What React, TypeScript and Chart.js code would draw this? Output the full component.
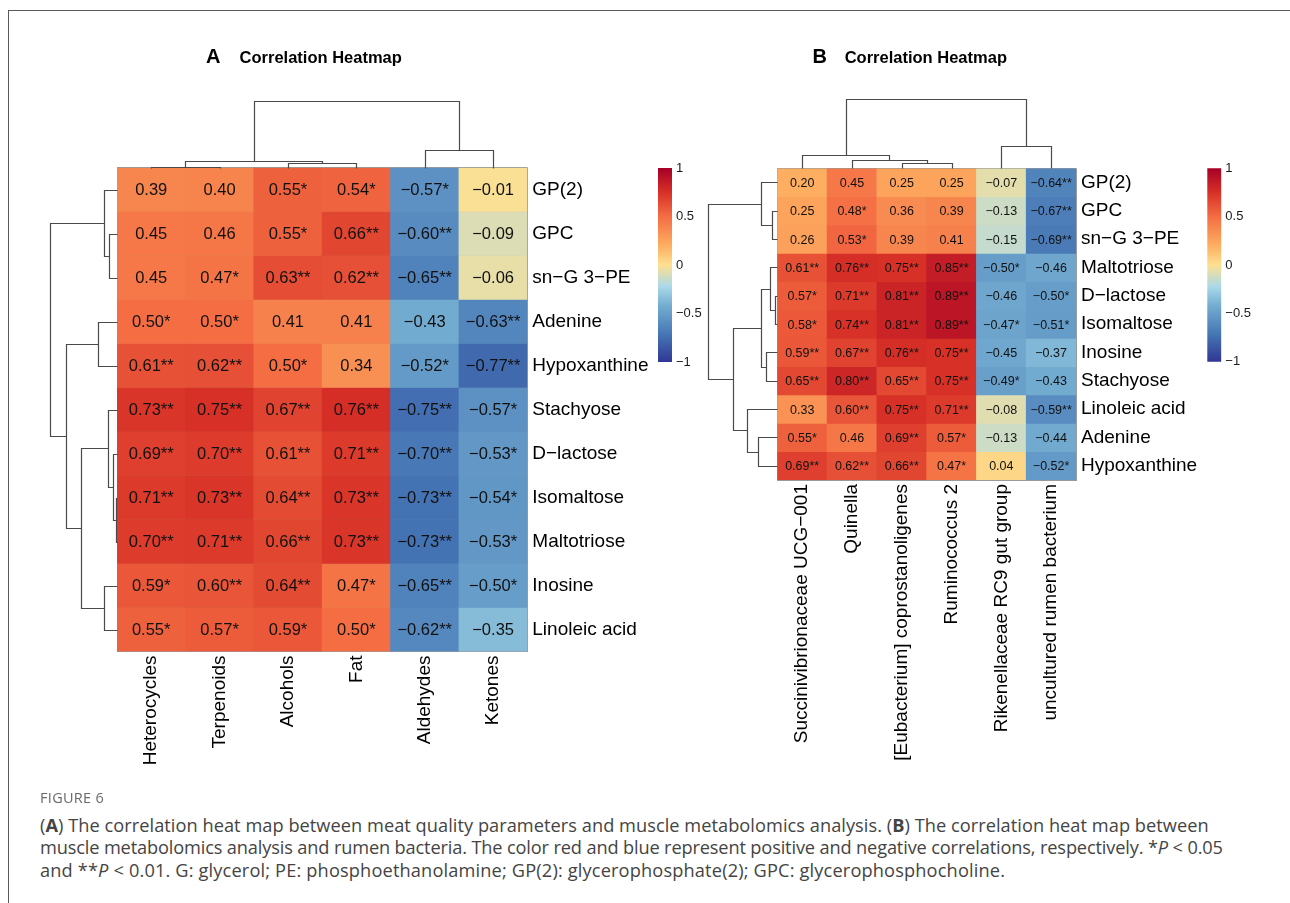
import React, { useEffect, useRef } from 'react';
import { Chart, registerables } from 'chart.js';
Chart.register(...registerables);

const FONT = '"Liberation Sans", Arial, Helvetica, sans-serif';

// ---------- Panel A data ----------
const rowsA = ['GP(2)', 'GPC', 'sn−G 3−PE', 'Adenine', 'Hypoxanthine', 'Stachyose', 'D−lactose', 'Isomaltose', 'Maltotriose', 'Inosine', 'Linoleic acid'];
const colsA = ['Heterocycles', 'Terpenoids', 'Alcohols', 'Fat', 'Aldehydes', 'Ketones'];
const valuesA = [
  [0.39, 0.40, 0.55, 0.54, -0.57, -0.01],
  [0.45, 0.46, 0.55, 0.66, -0.60, -0.09],
  [0.45, 0.47, 0.63, 0.62, -0.65, -0.06],
  [0.50, 0.50, 0.41, 0.41, -0.43, -0.63],
  [0.61, 0.62, 0.50, 0.34, -0.52, -0.77],
  [0.73, 0.75, 0.67, 0.76, -0.75, -0.57],
  [0.69, 0.70, 0.61, 0.71, -0.70, -0.53],
  [0.71, 0.73, 0.64, 0.73, -0.73, -0.54],
  [0.70, 0.71, 0.66, 0.73, -0.73, -0.53],
  [0.59, 0.60, 0.64, 0.47, -0.65, -0.50],
  [0.55, 0.57, 0.59, 0.50, -0.62, -0.35],
];
const sigA = [
  [0, 0, 1, 1, 1, 0],
  [0, 0, 1, 2, 2, 0],
  [0, 1, 2, 2, 2, 0],
  [1, 1, 0, 0, 0, 2],
  [2, 2, 1, 0, 1, 2],
  [2, 2, 2, 2, 2, 1],
  [2, 2, 2, 2, 2, 1],
  [2, 2, 2, 2, 2, 1],
  [2, 2, 2, 2, 2, 1],
  [1, 2, 2, 1, 2, 1],
  [1, 1, 1, 1, 2, 0],
];
// hclust-style merges: negative = leaf (1-based), positive = earlier merge; third = relative height
const rowMergeA = [
  [-8, -9, 0.019], [-7, 1, 0.055], [-6, 2, 0.13], [-2, -3, 0.115], [-1, 4, 0.194],
  [-10, -11, 0.194], [-4, -5, 0.288], [3, 6, 0.533], [7, 8, 0.76], [5, 9, 1.0],
];
const colMergeA = [[-1, -2, 0.012], [-3, -4, 0.071], [1, 2, 0.10], [-5, -6, 0.26], [3, 4, 1.0]];

// ---------- Panel B data ----------
const rowsB = ['GP(2)', 'GPC', 'sn−G 3−PE', 'Maltotriose', 'D−lactose', 'Isomaltose', 'Inosine', 'Stachyose', 'Linoleic acid', 'Adenine', 'Hypoxanthine'];
const colsB = ['Succinivibrionaceae UCG−001', 'Quinella', '[Eubacterium] coprostanoligenes', 'Ruminococcus 2', 'Rikenellaceae RC9 gut group', 'uncultured rumen bacterium'];
const valuesB = [
  [0.20, 0.45, 0.25, 0.25, -0.07, -0.64],
  [0.25, 0.48, 0.36, 0.39, -0.13, -0.67],
  [0.26, 0.53, 0.39, 0.41, -0.15, -0.69],
  [0.61, 0.76, 0.75, 0.85, -0.50, -0.46],
  [0.57, 0.71, 0.81, 0.89, -0.46, -0.50],
  [0.58, 0.74, 0.81, 0.89, -0.47, -0.51],
  [0.59, 0.67, 0.76, 0.75, -0.45, -0.37],
  [0.65, 0.80, 0.65, 0.75, -0.49, -0.43],
  [0.33, 0.60, 0.75, 0.71, -0.08, -0.59],
  [0.55, 0.46, 0.69, 0.57, -0.13, -0.44],
  [0.69, 0.62, 0.66, 0.47, 0.04, -0.52],
];
const sigB = [
  [0, 0, 0, 0, 0, 2],
  [0, 1, 0, 0, 0, 2],
  [0, 1, 0, 0, 0, 2],
  [2, 2, 2, 2, 1, 0],
  [1, 2, 2, 2, 0, 1],
  [1, 2, 2, 2, 1, 1],
  [2, 2, 2, 2, 0, 0],
  [2, 2, 2, 2, 1, 0],
  [0, 2, 2, 2, 0, 2],
  [1, 0, 2, 1, 0, 0],
  [2, 2, 2, 1, 0, 1],
];
const rowMergeB = [
  [-5, -6, 0.033], [-2, -3, 0.072], [-4, 1, 0.106], [-7, -8, 0.164], [3, 4, 0.24],
  [-1, 2, 0.24], [-10, -11, 0.275], [-9, 7, 0.435], [5, 8, 0.646], [6, 9, 1.0],
];
const colMergeB = [[-3, -4, 0.081], [-2, 1, 0.12], [-1, 2, 0.193], [-5, -6, 0.328], [3, 4, 1.0]];

const legendTicks = [-1, -0.5, 0, 0.5, 1];

// ---------- colours (RdYlBu-like ramp) ----------
const stopValues = [-1, -0.72, -0.42, -0.22, 0, 0.2, 0.5, 0.75, 1];
const stopColors = ['#313695', '#4575B4', '#74ADD1', '#ABD9E9', '#FEE090', '#FDAE61', '#F46D43', '#D73027', '#A50026'];
const RGB = stopColors.map((h) => [parseInt(h.slice(1, 3), 16), parseInt(h.slice(3, 5), 16), parseInt(h.slice(5, 7), 16)]);
function colorFor(v: number) {
  const x = Math.max(-1, Math.min(1, v));
  let i = 0;
  while (i < stopValues.length - 2 && x > stopValues[i + 1]) i++;
  const f = (x - stopValues[i]) / (stopValues[i + 1] - stopValues[i]);
  const a = RGB[i], b = RGB[i + 1];
  const c = [0, 1, 2].map((k) => Math.round(a[k] + (b[k] - a[k]) * f));
  return `rgb(${c[0]},${c[1]},${c[2]})`;
}
const fmt = (v: number) => (v < 0 ? '−' : '') + Math.abs(v).toFixed(2);
const GRID = '#9a9a9a';
const TREE = '#4a4a4a';

function drawTree(ctx: CanvasRenderingContext2D, merges: number[][], leafPos: (i: number) => number, base: number, treePx: number, vertical: boolean) {
  const nodes: { p: number; h: number }[] = [];
  const get = (k: number) => (k < 0 ? { p: leafPos(-k - 1), h: 0 } : nodes[k - 1]);
  const pt = (p: number, h: number): [number, number] => {
    const d = base - h * treePx;
    return vertical ? [Math.round(p) + 0.5, Math.round(d) + 0.5] : [Math.round(d) + 0.5, Math.round(p) + 0.5];
  };
  ctx.save();
  ctx.strokeStyle = TREE;
  ctx.lineWidth = 1.2;
  ctx.beginPath();
  merges.forEach(([a, b, h]) => {
    const A = get(a), B = get(b);
    ctx.moveTo(...pt(A.p, A.h));
    ctx.lineTo(...pt(A.p, h));
    ctx.lineTo(...pt(B.p, h));
    ctx.lineTo(...pt(B.p, B.h));
    nodes.push({ p: (A.p + B.p) / 2, h });
  });
  ctx.stroke();
  ctx.restore();
}

type HeatCfg = {
  rows: string[]; cols: string[]; values: number[][]; sig: number[][];
  rowMerge: number[][]; colMerge: number[][];
  cellFont: number; treePx: number;
  padding: { left: number; right: number; top: number; bottom: number };
  labW: number; labH: number;
};

function heatmapConfig(cfg: HeatCfg): any {
  const datasets = cfg.rows.map((name, r) => ({
    label: name,
    data: cfg.cols.map(() => [r, r + 1]),
    backgroundColor: cfg.values[r].map(colorFor),
    borderWidth: 0,
    barPercentage: 1,
    categoryPercentage: 1,
    grouped: false,
  }));
  const plugin = {
    id: 'heatExtras',
    afterDatasetsDraw(chart: any) {
      const ctx = chart.ctx;
      ctx.save();
      ctx.font = `${cfg.cellFont}px ${FONT}`;
      ctx.fillStyle = '#111';
      ctx.textAlign = 'center';
      ctx.textBaseline = 'middle';
      cfg.values.forEach((row, r) => {
        const meta = chart.getDatasetMeta(r);
        meta.data.forEach((bar: any, c: number) => {
          const p = bar.getProps(['x', 'y', 'base'], true);
          ctx.fillText(fmt(row[c]) + '*'.repeat(cfg.sig[r][c]), p.x, (p.y + p.base) / 2 + 1);
        });
      });
      ctx.restore();
    },
    afterDraw(chart: any) {
      const { x, y } = chart.scales;
      const area = chart.chartArea;
      drawTree(chart.ctx, cfg.colMerge, (i) => x.getPixelForValue(i), area.top, cfg.treePx, true);
      drawTree(chart.ctx, cfg.rowMerge, (i) => y.getPixelForValue(i + 0.5), area.left, cfg.treePx, false);
    },
  };
  return {
    type: 'bar',
    data: { labels: cfg.cols, datasets },
    options: {
      responsive: false,
      animation: false,
      layout: { padding: cfg.padding },
      plugins: { legend: { display: false }, tooltip: { enabled: false } },
      scales: {
        x: {
          type: 'category',
          position: 'bottom',
          offset: true,
          z: 1,
          grid: { offset: true, color: GRID, lineWidth: 1, drawTicks: false },
          border: { display: true, color: GRID },
          ticks: { autoSkip: false, maxRotation: 90, minRotation: 90, font: { family: FONT, size: 19 }, color: '#000', padding: 4 },
          afterFit: (s: any) => { s.height = cfg.labH; },
        },
        y: {
          type: 'linear',
          position: 'left',
          min: 0,
          max: cfg.rows.length,
          reverse: true,
          z: 1,
          ticks: { display: false, stepSize: 1 },
          grid: { color: GRID, lineWidth: 1, drawTicks: false },
          border: { display: true, color: GRID },
          afterFit: (s: any) => { s.width = 0; },
        },
        yLab: {
          type: 'category',
          labels: cfg.rows,
          position: 'right',
          offset: true,
          grid: { display: false, drawTicks: false },
          border: { display: false },
          ticks: { autoSkip: false, font: { family: FONT, size: 19 }, color: '#000', padding: 5 },
          afterFit: (s: any) => { s.width = cfg.labW; },
        },
      },
    },
    plugins: [plugin],
  };
}

function legendConfig(padding: any): any {
  return {
    type: 'bar',
    data: {
      labels: [''],
      datasets: [{
        data: [[legendTicks[0], legendTicks[legendTicks.length - 1]]],
        backgroundColor: (c: any) => {
          const ch = c.chart;
          const ys = ch.scales && ch.scales.y;
          if (!ys || !ch.chartArea) return stopColors[4];
          const g = ch.ctx.createLinearGradient(0, ys.getPixelForValue(-1), 0, ys.getPixelForValue(1));
          stopColors.forEach((col, i) => g.addColorStop((stopValues[i] + 1) / 2, col));
          return g;
        },
        borderWidth: 0,
        barPercentage: 1,
        categoryPercentage: 1,
      }],
    },
    options: {
      responsive: false,
      animation: false,
      layout: { padding },
      plugins: { legend: { display: false }, tooltip: { enabled: false } },
      scales: {
        x: { display: false },
        y: {
          min: -1, max: 1, position: 'right',
          afterBuildTicks: (s: any) => { s.ticks = legendTicks.map((v) => ({ value: v })); },
          ticks: {
            font: { family: FONT, size: 13 }, color: '#1a1a1a', padding: 4,
            callback: (v: number) => (v < 0 ? '−' + Math.abs(v) : String(v)),
          },
          grid: { display: false, drawTicks: false },
          border: { display: false },
          afterFit: (s: any) => { s.width = 40; },
        },
      },
    },
  };
}

function ChartCanvas({ left, top, width, height, make }: { left: number; top: number; width: number; height: number; make: () => any }) {
  const ref = useRef<HTMLCanvasElement | null>(null);
  useEffect(() => {
    const chart = new Chart(ref.current as HTMLCanvasElement, make());
    chart.update();
    return () => chart.destroy();
  }, []);
  return <canvas ref={ref} width={width} height={height} style={{ position: 'absolute', left, top, width, height }} />;
}

const titleStyle = (left: number, size: number): React.CSSProperties => ({
  position: 'absolute', left, top: 63.3 - size * 0.8465, font: `bold ${size}px ${FONT}`, lineHeight: 1, color: '#000', whiteSpace: 'nowrap',
});

export default function App() {
  const capFont = '"Open Sans", "Noto Sans", sans-serif';
  const line = (ls: number): React.CSSProperties => ({ height: 22.5, lineHeight: '22.5px', whiteSpace: 'nowrap', letterSpacing: ls });
  return (
    <div style={{ position: 'fixed', left: 0, top: 0, width: 1290, height: 903, overflow: 'hidden', background: '#fff' }}>
      <div style={{ position: 'absolute', left: 8, top: 10, width: 1400, height: 1000, borderTop: '1px solid #5a5a5a', borderLeft: '1px solid #5a5a5a' }} />
      <ChartCanvas left={0} top={0} width={660} height={800} make={() => heatmapConfig({
        rows: rowsA, cols: colsA, values: valuesA, sig: sigA, rowMerge: rowMergeA, colMerge: colMergeA,
        cellFont: 16.5, treePx: 67,
        padding: { left: 117, right: 7.7, top: 167.5, bottom: 8.5 }, labW: 125, labH: 140,
      })} />
      <ChartCanvas left={660} top={0} width={630} height={800} make={() => heatmapConfig({
        rows: rowsB, cols: colsB, values: valuesB, sig: sigB, rowMerge: rowMergeB, colMerge: colMergeB,
        cellFont: 12.5, treePx: 69,
        padding: { left: 117.3, right: 34, top: 168.3, bottom: 30 }, labW: 180, labH: 290,
      })} />
      <ChartCanvas left={640} top={150} width={80} height={240} make={() => legendConfig({ left: 18, right: 8, top: 18, bottom: 28 })} />
      <ChartCanvas left={1190} top={150} width={80} height={240} make={() => legendConfig({ left: 17.3, right: 8.7, top: 18.3, bottom: 28.3 })} />
      <div style={titleStyle(206, 20)}>A</div>
      <div style={titleStyle(239.6, 16.5)}>Correlation Heatmap</div>
      <div style={titleStyle(812.6, 20)}>B</div>
      <div style={titleStyle(844.7, 16.5)}>Correlation Heatmap</div>
      <div style={{ position: 'absolute', left: 40, top: 788, font: `14.5px ${capFont}`, color: '#6a6a6a', lineHeight: '20px', letterSpacing: 0.3 }}>FIGURE 6</div>
      <div style={{ position: 'absolute', left: 40, top: 813.75, font: `18.2px ${capFont}`, color: '#444' }}>
        <div style={line(0.05)}>(<b>A</b>) The correlation heat map between meat quality parameters and muscle metabolomics analysis. (<b>B</b>) The correlation heat map between</div>
        <div style={line(-0.14)}>muscle metabolomics analysis and rumen bacteria. The color red and blue represent positive and negative correlations, respectively. *<i>P</i> &lt; 0.05</div>
        <div style={line(0.16)}>and **<i>P</i> &lt; 0.01. G: glycerol; PE: phosphoethanolamine; GP(2): glycerophosphate(2); GPC: glycerophosphocholine.</div>
      </div>
    </div>
  );
}
